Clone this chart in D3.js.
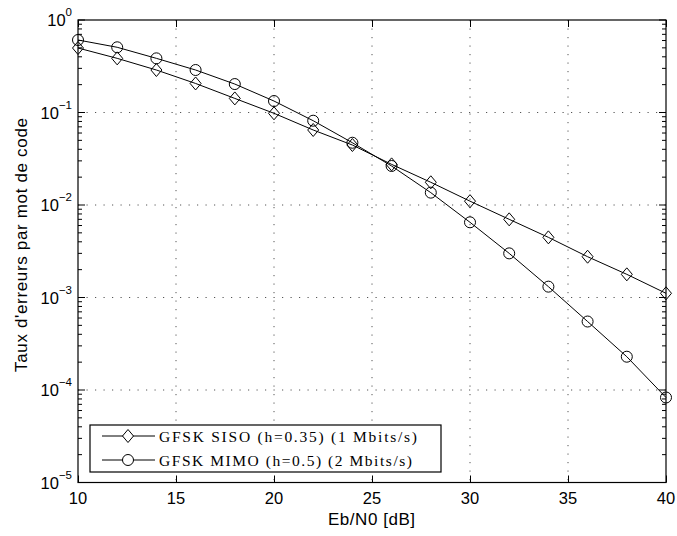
<!DOCTYPE html>
<html><head><meta charset="utf-8">
<script src="https://cdn.jsdelivr.net/npm/d3@7"></script>
<style>body{margin:0;background:#fff}</style>
</head><body>
<svg id="c" width="677" height="536"></svg>
<script>
const ebn0 = [10,12,14,16,18,20,22,24,26,28,30,32,34,36,38,40];
const siso = [0.498,0.385,0.288,0.206,0.142,0.098,0.0647,0.0445,0.0275,0.0176,0.0110,0.0070,0.00447,0.00276,0.00178,0.00111];
const mimo = [0.608,0.507,0.385,0.288,0.203,0.133,0.0815,0.0471,0.0264,0.0136,0.0065,0.0030,0.00131,0.00055,0.000229,0.000083];
const xTicks = [10,15,20,25,30,35,40];
const yExps = [0,-1,-2,-3,-4,-5];
const legendLabels = ["GFSK SISO (h=0.35) (1 Mbits/s)","GFSK MIMO (h=0.5) (2 Mbits/s)"];
const xLabel = "Eb/N0 [dB]";
const yLabel = "Taux d'erreurs par mot de code";

const svg = d3.select("#c");
const L=78, R=666, T=20, B=482.5;
const x = d3.scaleLinear().domain([10,40]).range([L,R]);
const y = d3.scaleLog().domain([1e-5,1]).range([B,T]);
const sans = "Liberation Sans, Arial, sans-serif";
const serif = "Liberation Serif, DejaVu Serif, serif";

// grid
const g = svg.append("g");
xTicks.slice(1,-1).forEach(t=>{
  g.append("line").attr("x1",x(t)).attr("x2",x(t)).attr("y1",T).attr("y2",B)
   .attr("stroke","#555").attr("stroke-width",1).attr("stroke-dasharray","1.2,7.3");
});
yExps.slice(1,-1).forEach(e=>{
  g.append("line").attr("x1",L).attr("x2",R).attr("y1",y(Math.pow(10,e))).attr("y2",y(Math.pow(10,e)))
   .attr("stroke","#555").attr("stroke-width",1).attr("stroke-dasharray","1.2,7.3");
});

// ticks
const tk = svg.append("g").attr("stroke","#000").attr("stroke-width",1);
xTicks.forEach(t=>{
  const px = Math.round(x(t))+0.5;
  tk.append("line").attr("x1",px).attr("x2",px).attr("y1",B).attr("y2",B-7);
  tk.append("line").attr("x1",px).attr("x2",px).attr("y1",T).attr("y2",T+7);
});
for(let e=-5;e<=0;e++){
  const py = y(Math.pow(10,e));
  tk.append("line").attr("x1",L).attr("x2",L+7).attr("y1",py).attr("y2",py);
  tk.append("line").attr("x1",R).attr("x2",R-7).attr("y1",py).attr("y2",py);
  if(e<0){
    for(let m=2;m<=9;m++){
      const pm = y(m*Math.pow(10,e));
      tk.append("line").attr("x1",L).attr("x2",L+4).attr("y1",pm).attr("y2",pm);
      tk.append("line").attr("x1",R).attr("x2",R-4).attr("y1",pm).attr("y2",pm);
    }
  }
}
svg.append("rect").attr("x",L).attr("y",T).attr("width",R-L).attr("height",B-T)
  .attr("fill","none").attr("stroke","#000").attr("stroke-width",1.2);

// tick labels
xTicks.forEach(t=>{
  svg.append("text").attr("x",x(t)).attr("y",503.5).attr("text-anchor","middle")
    .attr("font-family",sans).attr("font-size",16.5).text(t);
});
yExps.forEach(e=>{
  const py = y(Math.pow(10,e));
  const tx = svg.append("text").attr("x",72).attr("y",py+6).attr("text-anchor","end")
    .attr("font-family",sans).attr("font-size",16.5);
  tx.append("tspan").text("10");
  tx.append("tspan").attr("dy",-10).attr("font-size",11.5).text(String(e).replace("-","\u2212"));
});

// axis labels
svg.append("text").attr("x",371.5).attr("y",525).attr("text-anchor","middle")
  .attr("font-family",sans).attr("font-size",17).attr("textLength",87).text(xLabel);
svg.append("text").attr("transform","translate(27,245) rotate(-90)").attr("text-anchor","middle")
  .attr("font-family",sans).attr("font-size",17).attr("textLength",254).text(yLabel);

// lines
const line = d3.line().x((d,i)=>x(ebn0[i])).y(d=>y(d));
const diamond = "M0,-6.5L5.5,0L0,6.5L-5.5,0Z";
[siso,mimo].forEach((s,k)=>{
  svg.append("path").attr("d",line(s)).attr("fill","none").attr("stroke","#000").attr("stroke-width",1);
  s.forEach((v,i)=>{
    if(k===0) svg.append("path").attr("d",diamond).attr("transform",`translate(${x(ebn0[i])},${y(v)})`)
      .attr("fill","none").attr("stroke","#000").attr("stroke-width",1);
    else svg.append("circle").attr("cx",x(ebn0[i])).attr("cy",y(v)).attr("r",5.5)
      .attr("fill","none").attr("stroke","#000").attr("stroke-width",1);
  });
});

// legend
const lg = svg.append("g");
lg.append("rect").attr("x",90).attr("y",425).attr("width",351).attr("height",47)
  .attr("fill","#fff").attr("stroke","#000").attr("stroke-width",1.2);
legendLabels.forEach((lab,i)=>{
  const ly = 436 + i*24;
  lg.append("line").attr("x1",102).attr("x2",155).attr("y1",ly).attr("y2",ly).attr("stroke","#000");
  if(i===0) lg.append("path").attr("d",diamond).attr("transform",`translate(128,${ly})`).attr("fill","#fff").attr("stroke","#000");
  else lg.append("circle").attr("cx",128).attr("cy",ly).attr("r",5.5).attr("fill","#fff").attr("stroke","#000");
  lg.append("text").attr("x",159).attr("y",ly+5.5).attr("font-family",serif).attr("font-size",15.5)
    .attr("textLength", i===0?258:253).text(lab);
});
</script>
</body></html>
